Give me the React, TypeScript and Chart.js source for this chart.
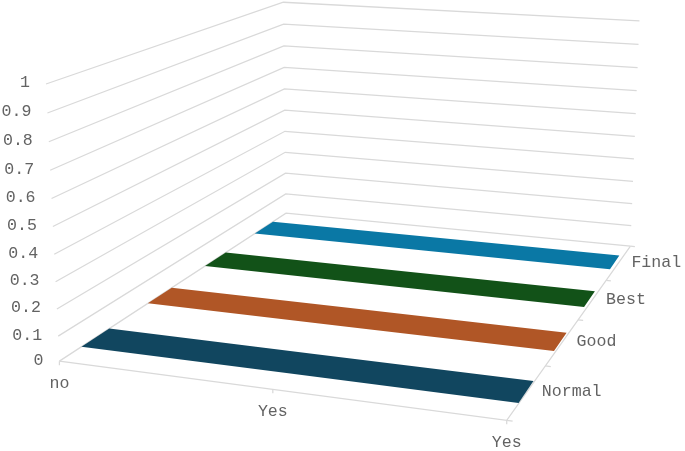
import React, { useEffect, useRef } from "react";
import { Chart, registerables } from "chart.js";

Chart.register(...registerables);

const categories = ["no", "Yes", "Yes"];
const seriesNames = ["Normal", "Good", "Best", "Final"];
const valueTicks = [0, 0.1, 0.2, 0.3, 0.4, 0.5, 0.6, 0.7, 0.8, 0.9, 1];
const normalValues = [0, 0, 0];
const goodValues = [0, 0, 0];
const bestValues = [0, 0, 0];
const finalValues = [0, 0, 0];
const seriesValues = [normalValues, goodValues, bestValues, finalValues];
const seriesColors = ["#11465f", "#b05626", "#125218", "#0a78a5"];

const GRID = "#d9d9d9";
const TEXT = "#636363";
const FONT = '16.6px "Liberation Mono", monospace';
const BAND_HALF = 0.05;
const BAND_END_INSET = 0.012;
const FLOOR_LIFT = 0.007;

// Homogeneous projection of the unit box (category, series, value) onto the page.
const O = [59.5, 363];
const U = [402.8, 22.3, -0.0876];
const V = [320.9, -77.6, 0.33];
const W = [-15.4, -282.5, -0.0417];

function project(u: number, v: number, value: number) {
  const w = value === 0 ? FLOOR_LIFT : value;
  const d = 1 + u * U[2] + v * V[2] + w * W[2];
  return {
    x: (O[0] + u * U[0] + v * V[0] + w * W[0]) / d,
    y: (O[1] + u * U[1] + v * V[1] + w * W[1]) / d,
  };
}

const uOf = (i: number) => i / (categories.length - 1);
const vOf = (i: number) => (i + 0.5) / seriesNames.length;

function line(points: { x: number; y: number }[], color = GRID) {
  return {
    data: points,
    showLine: true,
    borderColor: color,
    borderWidth: 1.25,
    pointRadius: 0,
    fill: false,
    tension: 0,
  };
}

function band(i: number) {
  const vals = seriesValues[i];
  const lo = vOf(i) - BAND_HALF;
  const hi = vOf(i) + BAND_HALF;
  const near = vals.map((val, c) => project(uOf(c) * (1 - BAND_END_INSET * lo), lo, val));
  const far = vals.map((val, c) => project(uOf(c) * (1 - BAND_END_INSET * hi), hi, val)).reverse();
  return {
    data: [...near, ...far],
    showLine: true,
    borderWidth: 0,
    borderColor: seriesColors[i],
    backgroundColor: seriesColors[i],
    pointRadius: 0,
    fill: "shape" as const,
    tension: 0,
  };
}

function buildDatasets() {
  const sets: any[] = seriesNames.map((_, i) => band(i));
  valueTicks.forEach((t) => {
    sets.push(line([project(0, 0, t), project(0, 1, t), project(1, 1, t)]));
  });
  sets.push(line([project(0, 0, 0), project(1, 0, 0), project(1, 1, 0)]));
  categories.forEach((_, c) => {
    const p = project(uOf(c), 0, 0);
    sets.push(line([p, { x: p.x, y: p.y + 4 }]));
  });
  for (let i = 0; i <= seriesNames.length; i++) {
    const v = i / seriesNames.length;
    sets.push(line([project(1, v, 0), project(1.012, v, 0)]));
  }
  return sets;
}

const labelPlugin = {
  id: "boxLabels",
  afterDraw(chart: any) {
    const ctx = chart.ctx;
    const sx = chart.scales.x;
    const sy = chart.scales.y;
    const at = (p: { x: number; y: number }) => [sx.getPixelForValue(p.x), sy.getPixelForValue(p.y)];
    ctx.save();
    ctx.font = FONT;
    ctx.fillStyle = TEXT;
    ctx.textBaseline = "middle";
    ctx.textAlign = "right";
    valueTicks.forEach((t) => {
      const [x, y] = at(project(0, 0, t));
      ctx.fillText(String(t), x - 16, y - 1);
    });
    ctx.textAlign = "center";
    categories.forEach((c, i) => {
      const [x, y] = at(project(uOf(i), 0, 0));
      ctx.fillText(c, x, y + 22.5);
    });
    ctx.textAlign = "left";
    seriesNames.forEach((s, i) => {
      const v = vOf(i);
      const [x, y] = at(project(1, v, 0));
      ctx.fillText(s, x + 15.3 - 3 * v, y);
    });
    ctx.restore();
  },
};

export default function App() {
  const ref = useRef<HTMLCanvasElement>(null);
  useEffect(() => {
    if (!ref.current) return;
    const chart = new Chart(ref.current, {
      type: "scatter",
      data: { datasets: buildDatasets() },
      options: {
        animation: false,
        responsive: false,
        layout: { padding: 0 },
        plugins: { legend: { display: false }, tooltip: { enabled: false } },
        scales: {
          x: { type: "linear", display: false, min: 0, max: 685 },
          y: { type: "linear", display: false, min: 0, max: 451, reverse: true },
        },
      },
      plugins: [labelPlugin],
    } as any);
    return () => chart.destroy();
  }, []);
  return (
    <canvas
      ref={ref}
      width={685}
      height={451}
      style={{ position: "absolute", left: 0, top: 0 }}
    />
  );
}
